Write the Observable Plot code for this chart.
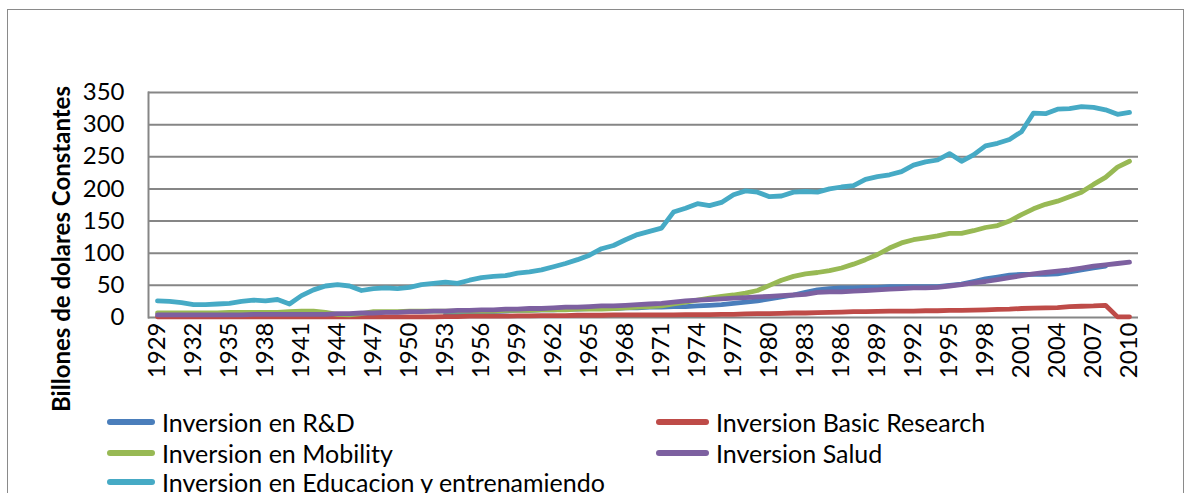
<!DOCTYPE html>
<html>
<head>
<meta charset="utf-8">
<script src="https://cdn.jsdelivr.net/npm/d3@7"></script>
<script src="https://cdn.jsdelivr.net/npm/@observablehq/plot@0.6"></script>
<style>
  html, body { margin: 0; padding: 0; background: #fff; }
  body { width: 1188px; height: 493px; position: relative; overflow: hidden; font-family: Lato, "Open Sans", sans-serif; }
  #frame { position: absolute; left: 7px; top: 9px; width: 1175px; height: 600px; border: 1.5px solid #8a8a8a; pointer-events: none; }
  #chart { position: absolute; left: 0; top: 0; }
  .leg { position: absolute; display: flex; align-items: center; font-size: 25px; line-height: 1; color: #000; white-space: nowrap; }
  .sw { display: inline-block; height: 5.5px; border-radius: 3px; margin-right: 7px; }
</style>
</head>
<body>
<div id="chart"></div>
<div id="legend"></div>
<div id="frame"></div>
<script>
const years = d3.range(1929, 2011);
const seriesNames = [
  "Inversion en R&D",
  "Inversion Basic Research",
  "Inversion en Mobility",
  "Inversion Salud",
  "Inversion en Educacion y entrenamiendo"
];
const seriesColors = ["#4A7EBB", "#BE4B48", "#98B954", "#7D60A0", "#46AAC5"];

const rdValues = [
  null,null,null,null,null,null,null,null,null,null,
  null,null,null,null,null,null,null,null,null,null,
  null,null,null,null,5,6,7,8,9,10,
  11,11,12,12,13,13,14,14,14,15,
  15,16,16,17,17,18,19,20,22,24,
  26,29,32,35,39,43,45,46,46,47,
  47,48,48,48,48,48,50,52,56,60,
  63,66,67,67,67,68,71,74,77,80,
  null,null
];
const basicValues = [
  1,1,1,1,1,1,1,1,1,1,
  1,1,1,1,1,1,1,1,1,1,
  1,1,1,1,1.5,1.5,2,2,2,2,
  2.5,2.5,3,3,3,3.5,3.5,3.5,4,4,
  4,4,4,4,4.5,4.5,4.5,5,5,5.5,
  6,6,6.5,7,7,7.5,8,8.5,9,9,
  9.5,10,10,10,10.5,10.5,11,11,11.5,12,
  12.5,13,14,14.5,15,15.5,17,17.5,18,19,
  1,1
];
const mobilityValues = [
  7,7,7,7,7,7,8,8,8,8,
  8,9,10,10,8,5,4,6,9,9,
  9,10,10,10,10,10,10,10,10,11,
  11,11,12,12,12,13,13,13,14,15,
  16,17,18,21,24,27,30,33,35,38,
  42,50,58,64,68,70,73,77,83,90,
  98,108,116,121,124,127,131,131,135,140,
  143,150,160,169,176,181,188,195,207,218,
  234,243
];
const saludValues = [
  4,4,4,4,4,4,4,4,5,5,
  5,5,5,5,5,6,6,7,7,8,
  8,9,9,10,10,11,11,12,12,13,
  13,14,14,15,16,16,17,18,18,19,
  20,21,22,24,26,27,28,29,30,31,
  32,33,34,35,36,39,40,40,41,42,
  43,44,45,46,46,47,49,51,54,56,
  59,62,65,68,70,72,74,77,80,82,
  84,86
];
const educacionValues = [
  26,25,23,20,20,21,22,25,27,26,
  28,21,34,43,49,51,49,42,45,46,
  45,47,51,53,55,53,58,62,64,65,
  69,71,74,79,84,90,97,107,112,121,
  129,134,139,164,170,177,174,179,191,197,
  195,188,189,195,196,195,200,203,205,215,
  219,222,227,237,242,245,255,243,253,267,
  271,277,289,318,317,324,325,328,327,323,
  316,319
];
const yTicks = [0, 50, 100, 150, 200, 250, 300, 350];
const xTickYears = years.filter(y => (y - 1929) % 3 === 0);
const yTitle = "Billones de dolares Constantes";

const allSeries = [rdValues, basicValues, mobilityValues, saludValues, educacionValues];
const data = [];
allSeries.forEach((arr, s) => {
  years.forEach((yr, i) => data.push({year: yr, value: arr[i], series: seriesNames[s]}));
});

const chart = Plot.plot({
  width: 1188,
  height: 395,
  marginLeft: 148,
  marginRight: 50,
  marginTop: 92,
  marginBottom: 78,
  style: {fontFamily: "Lato, 'Open Sans', sans-serif", fontSize: "24px", color: "#000", background: "transparent", overflow: "visible"},
  x: {type: "point", domain: years, padding: 0.5},
  y: {domain: [0, 350]},
  color: {domain: seriesNames, range: seriesColors},
  marks: [
    Plot.ruleY(yTicks, {stroke: "#868686", strokeWidth: 2}),
    Plot.frame({anchor: "left", stroke: "#868686", strokeWidth: 2}),
    Plot.axisY({ticks: yTicks, tickSize: 0, tickPadding: 24, label: null, fill: "#000"}),
    Plot.axisX({ticks: xTickYears, tickSize: 0, tickPadding: 5, tickRotate: -90, label: null, tickFormat: d => String(d), fill: "#000"}),
    Plot.text([yTitle], {frameAnchor: "left", dx: -86, dy: 44, rotate: -90, text: d => d, textAnchor: "middle", lineAnchor: "middle", fontWeight: "bold", fontSize: 24, fill: "#000"}),
    Plot.line(data, {x: "year", y: "value", z: "series", stroke: "series", strokeWidth: 4.8, strokeLinejoin: "round", strokeLinecap: "round"})
  ]
});
document.getElementById("chart").appendChild(chart);

const legendItems = [
  {i: 0, left: 107, top: 422, w: 48},
  {i: 1, left: 656, top: 422, w: 53},
  {i: 2, left: 107, top: 453, w: 48},
  {i: 3, left: 656, top: 453, w: 53},
  {i: 4, left: 107, top: 482, w: 48}
];
const leg = document.getElementById("legend");
legendItems.forEach(it => {
  const d = document.createElement("div");
  d.className = "leg";
  d.style.left = it.left + "px";
  d.style.top = (it.top - 13) + "px";
  d.style.height = "26px";
  const sw = document.createElement("span");
  sw.className = "sw";
  sw.style.width = it.w + "px";
  sw.style.background = seriesColors[it.i];
  const tx = document.createElement("span");
  tx.textContent = seriesNames[it.i];
  d.appendChild(sw);
  d.appendChild(tx);
  leg.appendChild(d);
});
</script>
</body>
</html>
